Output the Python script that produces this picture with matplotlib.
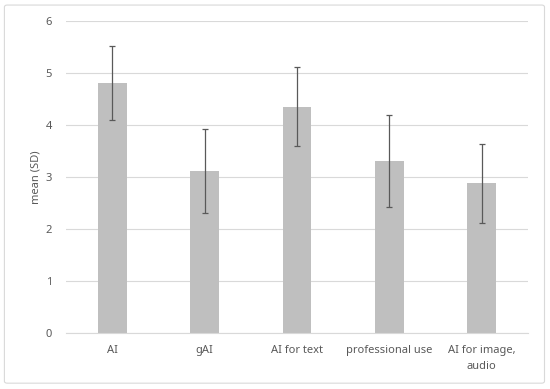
import matplotlib
matplotlib.use("Agg")
import matplotlib.pyplot as plt
from matplotlib.patches import FancyBboxPatch

categories = ["AI", "gAI", "AI for text", "professional use", "AI for image,\naudio"]
means = [4.80, 3.12, 4.35, 3.31, 2.88]
sds = [0.71, 0.81, 0.76, 0.89, 0.76]

plt.rcParams['font.family'] = ['Noto Sans', 'DejaVu Sans']
txt = '#595959'

fig = plt.figure(figsize=(5.5, 3.89), dpi=100)
frame = FancyBboxPatch((0.008, 0.015), 0.982, 0.972, boxstyle="round,pad=0,rounding_size=0.005",
                       transform=fig.transFigure, facecolor='white', edgecolor='#D9D9D9',
                       linewidth=0.8, zorder=-1)
fig.patches.append(frame)
ax = fig.add_axes([0.12, 0.144, 0.84, 0.802])
ax.set_facecolor('none')

x = range(len(categories))
ax.bar(x, means, width=0.31, color='#BFBFBF', zorder=2)
ax.errorbar(x, means, yerr=sds, fmt='none', ecolor='#595959', elinewidth=0.9, capsize=2.5, capthick=0.9, zorder=3)

ax.set_xlim(-0.5, len(categories) - 0.5)
ax.set_ylim(0, 6)
ax.set_yticks(range(7))
ax.yaxis.grid(True, color='#D9D9D9', linewidth=0.8, zorder=0)
ax.set_axisbelow(True)
for s in ['top', 'right', 'left']:
    ax.spines[s].set_visible(False)
ax.spines['bottom'].set_color('#D9D9D9')
ax.spines['bottom'].set_linewidth(0.8)
ax.tick_params(axis='both', length=0, colors=txt, labelsize=8)
ax.tick_params(axis='y', pad=10)
ax.tick_params(axis='x', pad=9)
ax.set_xticks(list(x))
ax.set_xticklabels(categories, linespacing=1.6)
ax.set_ylabel('mean (SD)', color=txt, fontsize=8, labelpad=3)

fig.savefig('out.png', dpi=100)
